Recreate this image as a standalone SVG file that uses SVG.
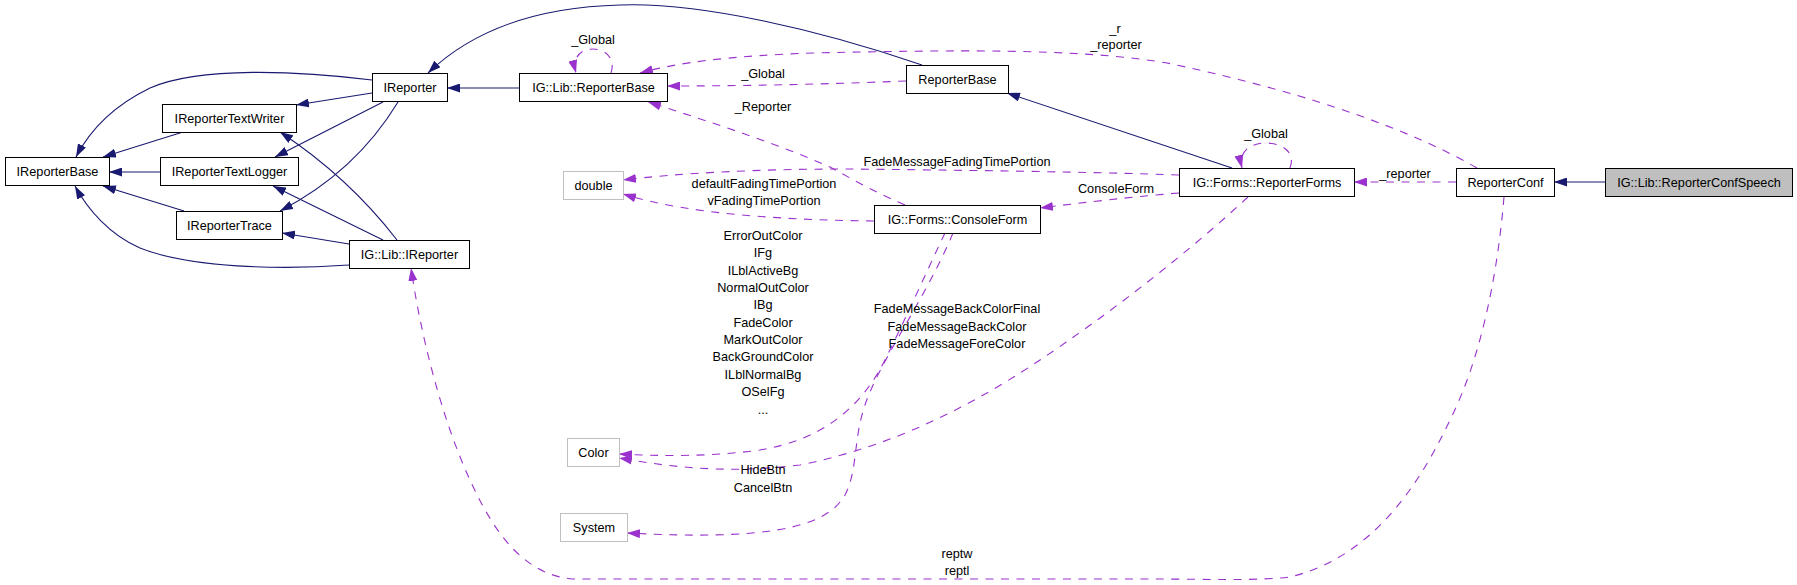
<svg xmlns="http://www.w3.org/2000/svg" width="1797" height="585" viewBox="0 0 1797 585">
<style>
text{font-family:"Liberation Sans",Arial,Helvetica,sans-serif;font-size:12.7px;fill:#000;text-anchor:middle}
.n{fill:#fff;stroke:#000;stroke-width:1}
.g{fill:#fff;stroke:#bfbfbf;stroke-width:1}
.s{fill:#bfbfbf;stroke:#000;stroke-width:1}
.inh{fill:none;stroke:#191970;stroke-width:1.1;marker-end:url(#an)}
.use{fill:none;stroke:#9a32cd;stroke-width:1.1;stroke-dasharray:8,7.5;marker-end:url(#ap)}
</style>
<defs>
<marker id="an" viewBox="0 0 13 9" refX="13" refY="4.5" markerWidth="13" markerHeight="9" orient="auto" markerUnits="userSpaceOnUse"><path d="M0,0 L13,4.5 L0,9 z" fill="#191970"/></marker>
<marker id="ap" viewBox="0 0 13 9" refX="13" refY="4.5" markerWidth="13" markerHeight="9" orient="auto" markerUnits="userSpaceOnUse"><path d="M0,0 L13,4.5 L0,9 z" fill="#9a32cd"/></marker>
</defs>
<rect width="1797" height="585" fill="#fff"/>
<g id="connectors">
<path class="inh" d="M183,132 L103,157"/>
<path class="inh" d="M160,172 L109,172"/>
<path class="inh" d="M184,211 L103,186"/>
<path class="inh" d="M372,80 C300,71 200,66 150,88 C115,105 90,130 76,157"/>
<path class="inh" d="M349,265 C280,270 190,268 140,248 C110,235 88,210 75,186"/>
<path class="inh" d="M372,93 L296,105"/>
<path class="inh" d="M383,102 L275,157"/>
<path class="inh" d="M398,102 C375,140 340,180 280,211"/>
<path class="inh" d="M397,240 C370,205 330,165 280,132"/>
<path class="inh" d="M383,240 L273,186"/>
<path class="inh" d="M349,244 L282,233"/>
<path class="inh" d="M519,88 L447,88"/>
<path class="inh" d="M922,65 C820,30 700,2 620,5 C540,7 475,28 428,73"/>
<path class="inh" d="M1232,168 L1007,93"/>
<path class="inh" d="M1605,182 L1554,182"/>
<path class="use" d="M611,73 C616,58 605,49 593,49 C580,49 572,58 576,73"/>
<path class="use" d="M906,81 C830,84 750,86 667,86"/>
<path class="use" d="M1477,168 C1420,135 1320,95 1167,63 C1080,48 950,50 813,53 C730,56 680,62 640,73"/>
<path class="use" d="M905,205 C870,190 845,175 830,167 C780,145 720,125 648,102"/>
<path class="use" d="M1179,175 C1100,172 950,170 847,169 C760,169 680,173 623,180"/>
<path class="use" d="M874,221 C790,220 690,215 623,194"/>
<path class="use" d="M1179,193 C1130,197 1080,203 1040,208"/>
<path class="use" d="M1456,182 L1354,182"/>
<path class="use" d="M1290,168 C1296,152 1282,143 1266,143 C1250,143 1238,152 1242,168"/>
<path class="use" d="M945,233 C925,275 905,320 885,360 C860,410 820,440 760,450 C710,457 660,456 619,454"/>
<path class="use" d="M1248,197 C1180,260 1100,320 1040,360 C980,400 900,445 800,465 C720,475 660,465 619,458"/>
<path class="use" d="M953,233 C925,300 880,360 865,405 C853,440 858,470 845,495 C825,530 760,540 627,533"/>
<path class="use" d="M1504,197 C1497,280 1480,360 1450,420 C1410,505 1360,560 1290,577 C1260,581 1200,579 1150,579 L573,579 C525,575 495,535 470,480 C440,415 420,330 411,268"/>
<text x="593" y="44">_Global</text>
<text x="763" y="78">_Global</text>
<text x="763" y="111">_Reporter</text>
<text x="1115" y="33">_r</text>
<text x="1116" y="49">_reporter</text>
<text x="957" y="166">FadeMessageFadingTimePortion</text>
<text x="764" y="188">defaultFadingTimePortion</text>
<text x="764" y="205">vFadingTimePortion</text>
<text x="1116" y="193">ConsoleForm</text>
<text x="1266" y="138">_Global</text>
<text x="1405" y="178">_reporter</text>
<text x="763" y="240">ErrorOutColor</text>
<text x="763" y="257.4">IFg</text>
<text x="763" y="274.7">ILblActiveBg</text>
<text x="763" y="292">NormalOutColor</text>
<text x="763" y="309.4">IBg</text>
<text x="763" y="326.7">FadeColor</text>
<text x="763" y="344">MarkOutColor</text>
<text x="763" y="361.4">BackGroundColor</text>
<text x="763" y="378.8">ILblNormalBg</text>
<text x="763" y="396.2">OSelFg</text>
<text x="763" y="413.5">...</text>
<text x="957" y="313">FadeMessageBackColorFinal</text>
<text x="957" y="330.5">FadeMessageBackColor</text>
<text x="957" y="348">FadeMessageForeColor</text>
<text x="763" y="474">HideBtn</text>
<text x="763" y="492">CancelBtn</text>
<text x="957" y="558">reptw</text>
<text x="957" y="575">reptl</text>
</g>
<g id="IReporterBase"><rect class="n" x="5.5" y="157.5" width="104" height="28"/><text x="57.5" y="176">IReporterBase</text></g>
<g id="IReporterTextWriter"><rect class="n" x="162.5" y="104.5" width="134" height="28"/><text x="229.5" y="123">IReporterTextWriter</text></g>
<g id="IReporterTextLogger"><rect class="n" x="160.5" y="157.5" width="138" height="28"/><text x="229.5" y="176">IReporterTextLogger</text></g>
<g id="IReporterTrace"><rect class="n" x="176.5" y="211.5" width="106" height="28"/><text x="229.5" y="230">IReporterTrace</text></g>
<g id="IReporter"><rect class="n" x="372.5" y="73.5" width="75" height="28"/><text x="410" y="92">IReporter</text></g>
<g id="IG_Lib_IReporter"><rect class="n" x="349.5" y="240.5" width="120" height="28"/><text x="409.5" y="259">IG::Lib::IReporter</text></g>
<g id="IG_Lib_ReporterBase"><rect class="n" x="519.5" y="73.5" width="148" height="28"/><text x="593.5" y="92">IG::Lib::ReporterBase</text></g>
<g id="ReporterBase"><rect class="n" x="906.5" y="65.5" width="102" height="28"/><text x="957.5" y="84">ReporterBase</text></g>
<g id="double"><rect class="g" x="563.5" y="171.5" width="60" height="28"/><text x="593.5" y="190">double</text></g>
<g id="IG_Forms_ConsoleForm"><rect class="n" x="874.5" y="205.5" width="166" height="28"/><text x="957.5" y="224">IG::Forms::ConsoleForm</text></g>
<g id="IG_Forms_ReporterForms"><rect class="n" x="1179.5" y="168.5" width="175" height="28"/><text x="1267" y="187">IG::Forms::ReporterForms</text></g>
<g id="ReporterConf"><rect class="n" x="1456.5" y="168.5" width="98" height="28"/><text x="1505.5" y="187">ReporterConf</text></g>
<g id="IG_Lib_ReporterConfSpeech"><rect class="s" x="1605.5" y="168.5" width="187" height="28"/><text x="1699" y="187">IG::Lib::ReporterConfSpeech</text></g>
<g id="Color"><rect class="g" x="567.5" y="438.5" width="52" height="28"/><text x="593.5" y="457">Color</text></g>
<g id="System"><rect class="g" x="560.5" y="513.5" width="67" height="28"/><text x="594" y="532">System</text></g>
</svg>
